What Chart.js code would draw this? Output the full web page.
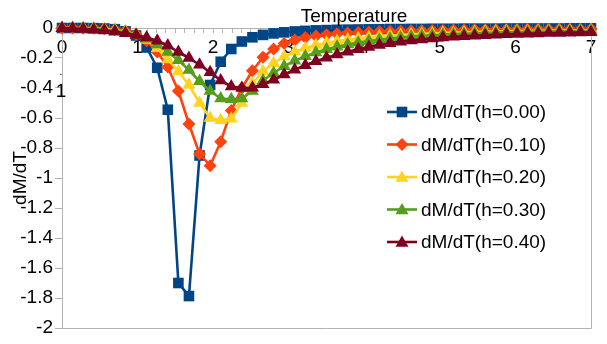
<!DOCTYPE html>
<html>
<head>
<meta charset="utf-8">
<script src="https://cdn.jsdelivr.net/npm/chart.js@4.4.0/dist/chart.umd.min.js"></script>
<style>
html,body{margin:0;padding:0;background:#ffffff;}
#wrap{width:607px;height:344px;position:relative;}
</style>
</head>
<body>
<div id="wrap"><canvas id="c" width="607" height="344"></canvas></div>
<script>
// ---- data ----
const temperatures = [0, 0.14, 0.28, 0.42, 0.56, 0.7, 0.84, 0.98, 1.12, 1.26, 1.4, 1.54, 1.68, 1.82, 1.96, 2.1, 2.24, 2.38, 2.52, 2.66, 2.8, 2.94, 3.08, 3.22, 3.36, 3.5, 3.64, 3.78, 3.92, 4.06, 4.2, 4.34, 4.48, 4.62, 4.76, 4.9, 5.04, 5.18, 5.32, 5.46, 5.6, 5.74, 5.88, 6.02, 6.16, 6.3, 6.44, 6.58, 6.72, 6.86, 7.0];

const seriesNames = ['dM/dT(h=0.00)', 'dM/dT(h=0.10)', 'dM/dT(h=0.20)', 'dM/dT(h=0.30)', 'dM/dT(h=0.40)'];

const dMdT_h000 = [0, 0, 0, -0.001, -0.003, -0.008, -0.022, -0.05, -0.13, -0.265, -0.545, -1.70, -1.787, -0.85, -0.38, -0.225, -0.14, -0.09, -0.062, -0.046, -0.036, -0.029, -0.023, -0.019, -0.016, -0.014, -0.012, -0.011, -0.01, -0.009, -0.008, -0.007, -0.007, -0.006, -0.006, -0.005, -0.005, -0.005, -0.004, -0.004, -0.004, -0.004, -0.003, -0.003, -0.003, -0.003, -0.003, -0.003, -0.002, -0.002, -0.002];
const dMdT_h010 = [0, 0, -0.001, -0.002, -0.005, -0.01, -0.02, -0.042, -0.085, -0.16, -0.26, -0.42, -0.64, -0.84, -0.918, -0.758, -0.55, -0.40, -0.285, -0.195, -0.14, -0.103, -0.08, -0.064, -0.053, -0.045, -0.039, -0.034, -0.03, -0.027, -0.024, -0.022, -0.02, -0.018, -0.017, -0.016, -0.015, -0.014, -0.013, -0.012, -0.011, -0.011, -0.01, -0.01, -0.009, -0.009, -0.009, -0.008, -0.008, -0.008, -0.007];
const dMdT_h020 = [0, -0.001, -0.002, -0.004, -0.008, -0.014, -0.025, -0.045, -0.08, -0.135, -0.21, -0.29, -0.38, -0.50, -0.60, -0.615, -0.605, -0.50, -0.37, -0.29, -0.235, -0.19, -0.158, -0.133, -0.114, -0.099, -0.087, -0.077, -0.068, -0.061, -0.055, -0.05, -0.046, -0.042, -0.039, -0.036, -0.033, -0.031, -0.029, -0.027, -0.025, -0.024, -0.022, -0.021, -0.02, -0.019, -0.018, -0.017, -0.016, -0.016, -0.015];
const dMdT_h030 = [-0.001, -0.002, -0.004, -0.007, -0.012, -0.019, -0.03, -0.047, -0.072, -0.11, -0.16, -0.215, -0.28, -0.355, -0.42, -0.47, -0.475, -0.47, -0.42, -0.35, -0.3, -0.255, -0.218, -0.188, -0.163, -0.142, -0.125, -0.11, -0.098, -0.087, -0.078, -0.07, -0.063, -0.057, -0.052, -0.048, -0.044, -0.041, -0.038, -0.035, -0.033, -0.031, -0.029, -0.027, -0.026, -0.024, -0.023, -0.022, -0.021, -0.02, -0.019];
const dMdT_h040 = [-0.002, -0.004, -0.007, -0.011, -0.017, -0.025, -0.035, -0.047, -0.063, -0.085, -0.117, -0.16, -0.2, -0.245, -0.295, -0.35, -0.39, -0.40, -0.398, -0.375, -0.345, -0.31, -0.278, -0.248, -0.222, -0.198, -0.177, -0.158, -0.141, -0.126, -0.113, -0.102, -0.092, -0.083, -0.076, -0.07, -0.064, -0.059, -0.055, -0.051, -0.048, -0.045, -0.042, -0.04, -0.038, -0.036, -0.034, -0.033, -0.031, -0.03, -0.029];

const xTickLabels = ['0', '1', '2', '3', '4', '5', '6', '7'];
const yTickLabels = ['0', '-0.2', '-0.4', '-0.6', '-0.8', '-1', '-1.2', '-1.4', '-1.6', '-1.8', '-2'];

// ---- styles ----
const FONT = '"Liberation Sans", Arial, sans-serif';
const FONT_SIZE = 19;
const colors = ['#004586', '#ff420e', '#ffd320', '#579d1c', '#7e0021'];
const pointStyles = ['rect', 'rectRot', 'triangle', 'triangle', 'triangle'];
const pointRadii = [7.5, 6.5, 7.5, 7.5, 7.5];
const allSeries = [dMdT_h000, dMdT_h010, dMdT_h020, dMdT_h030, dMdT_h040];
const AXIS_GRAY = '#b3b3b3';
const LINE_W = 2.6;

const datasets = allSeries.map((vals, k) => ({
  label: seriesNames[k],
  data: vals.map((v, i) => ({x: temperatures[i], y: v})),
  borderColor: colors[k],
  backgroundColor: colors[k],
  borderWidth: LINE_W,
  pointStyle: pointStyles[k],
  pointRadius: pointRadii[k],
  pointBorderWidth: 0,
  pointBackgroundColor: colors[k],
  pointBorderColor: colors[k],
  tension: 0,
  fill: false,
  clip: false,
  order: 4 - k
}));

function drawMarker(ctx, style, x, y, r, color) {
  ctx.save();
  ctx.fillStyle = color;
  ctx.beginPath();
  if (style === 'rect') {
    const s = Math.SQRT1_2 * r;
    ctx.rect(x - s, y - s, 2 * s, 2 * s);
  } else if (style === 'rectRot') {
    ctx.moveTo(x, y - r); ctx.lineTo(x + r, y); ctx.lineTo(x, y + r); ctx.lineTo(x - r, y);
    ctx.closePath();
  } else {
    ctx.moveTo(x, y - r);
    ctx.lineTo(x + r * 0.866, y + r / 2);
    ctx.lineTo(x - r * 0.866, y + r / 2);
    ctx.closePath();
  }
  ctx.fill();
  ctx.restore();
}

const framePlugin = {
  id: 'frame',
  beforeDatasetsDraw(chart) {
    const {ctx, chartArea: a} = chart;
    ctx.save();
    ctx.strokeStyle = AXIS_GRAY;
    ctx.lineWidth = 1;
    ctx.beginPath();
    ctx.moveTo(a.left, Math.round(a.bottom) + 0.5);
    ctx.lineTo(Math.round(a.right) + 0.5, Math.round(a.bottom) + 0.5);
    ctx.lineTo(Math.round(a.right) + 0.5, a.top);
    ctx.stroke();
    ctx.restore();
  }
};

const legendPlugin = {
  id: 'customLegend',
  afterDatasetsDraw(chart) {
    const {ctx} = chart;
    const x0 = 387, x1 = 417, tx = 421;
    const rows = [112, 144.5, 177, 209.5, 242];
    ctx.save();
    seriesNames.forEach((name, k) => {
      const y = rows[k];
      ctx.strokeStyle = colors[k];
      ctx.lineWidth = LINE_W;
      ctx.beginPath();
      ctx.moveTo(x0, y); ctx.lineTo(x1, y);
      ctx.stroke();
      drawMarker(ctx, pointStyles[k], (x0 + x1) / 2, y + (pointStyles[k] === 'triangle' ? 1 : 0), pointRadii[k], colors[k]);
      ctx.fillStyle = '#000000';
      ctx.font = FONT_SIZE + 'px ' + FONT;
      ctx.textAlign = 'left';
      ctx.textBaseline = 'middle';
      ctx.fillText(name, tx, y + 1);
    });
    ctx.restore();
  }
};

const textPlugin = {
  id: 'extraText',
  afterDraw(chart) {
    const {ctx} = chart;
    ctx.save();
    ctx.fillStyle = '#000000';
    ctx.font = FONT_SIZE + 'px ' + FONT;
    ctx.textAlign = 'center';
    ctx.textBaseline = 'alphabetic';
    ctx.fillText('Temperature', 354, 22);
    ctx.fillText('1', 61, 97);
    ctx.font = '10px ' + FONT;
    ctx.fillText('.', 61, 75);
    ctx.restore();
  }
};

new Chart(document.getElementById('c'), {
  type: 'line',
  data: {datasets},
  options: {
    responsive: false,
    animation: false,
    devicePixelRatio: 1,
    layout: {padding: {top: 28, right: 16, bottom: 16, left: 0}},
    plugins: {legend: {display: false}, tooltip: {enabled: false}, title: {display: false}},
    elements: {line: {borderJoinStyle: 'round'}},
    scales: {
      x: {
        type: 'linear',
        min: 0, max: 7,
        position: {y: 0},
        border: {display: true, color: AXIS_GRAY, width: 1},
        grid: {display: true, drawOnChartArea: false, drawTicks: true, tickLength: 4, color: AXIS_GRAY},
        ticks: {
          stepSize: 0.125,
          autoSkip: false,
          maxRotation: 0,
          minRotation: 0,
          padding: 4,
          color: '#000000',
          font: {family: FONT, size: FONT_SIZE},
          callback: (v) => {
            const r = Math.round(v);
            return Math.abs(v - r) < 1e-6 ? xTickLabels[r] : '';
          }
        }
      },
      y: {
        type: 'linear',
        min: -2, max: 0,
        position: 'left',
        afterFit: (s) => { s.width = 62; },
        border: {display: true, color: AXIS_GRAY, width: 1},
        grid: {display: true, drawOnChartArea: false, drawTicks: true, tickLength: 7, color: AXIS_GRAY},
        title: {display: true, text: 'dM/dT', color: '#000000', font: {family: FONT, size: FONT_SIZE}, padding: {top: 9, bottom: 0}},
        ticks: {
          stepSize: 0.2,
          padding: 2,
          color: '#000000',
          font: {family: FONT, size: FONT_SIZE},
          callback: (v) => yTickLabels[Math.round(-v * 5)]
        }
      }
    }
  },
  plugins: [framePlugin, legendPlugin, textPlugin]
});
</script>
</body>
</html>
